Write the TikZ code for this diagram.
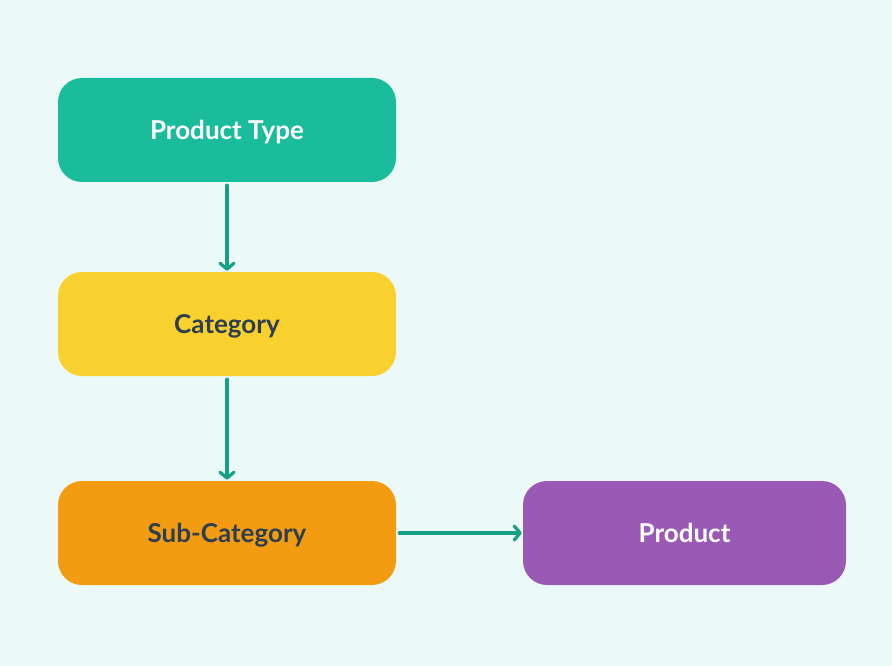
\documentclass[tikz,border=0pt]{standalone}
\usepackage{fontspec}
\setmainfont{Lato}
\usetikzlibrary{arrows.meta}
\definecolor{bgc}{HTML}{EBFAF8}
\definecolor{teal1}{HTML}{1ABC9C}
\definecolor{arr}{HTML}{16A085}
\definecolor{yel}{HTML}{F9D12E}
\definecolor{org}{HTML}{F39C12}
\definecolor{pur}{HTML}{9B59B6}
\definecolor{dark}{HTML}{2C3E50}
\tikzset{
  box/.style={rounded corners=24pt, minimum width=338pt, minimum height=104pt, inner sep=0pt,
    text height=18.7pt, text depth=0pt,
    font=\bfseries\fontsize{26}{30}\selectfont},
  conn/.style={draw=arr, line width=3.2pt, line cap=round,
    -{Straight Barb[length=6pt,width=14pt,line width=3.2pt,round]}},
}
\begin{document}
\begin{tikzpicture}[x=1pt,y=-1pt]
\fill[bgc] (0,0) rectangle (892,666);
\useasboundingbox (0,0) rectangle (892,666);
\node[box, fill=teal1, text=white] (pt) at (227,130) {Product Type};
\node[box, fill=yel, text=dark] (cat) at (227,324) {Category};
\node[box, fill=org, text=dark] (sub) at (227,533) {Sub-Category};
\node[box, fill=pur, text=white, minimum width=323pt] (prod) at (684.5,533) {Product};
\draw[conn] ([yshift=-3pt]pt.south) -- ([yshift=1pt]cat.north);
\draw[conn] ([yshift=-3pt]cat.south) -- ([yshift=1pt]sub.north);
\draw[conn] ([xshift=3pt]sub.east) -- ([xshift=-1pt]prod.west);
\end{tikzpicture}
\end{document}
